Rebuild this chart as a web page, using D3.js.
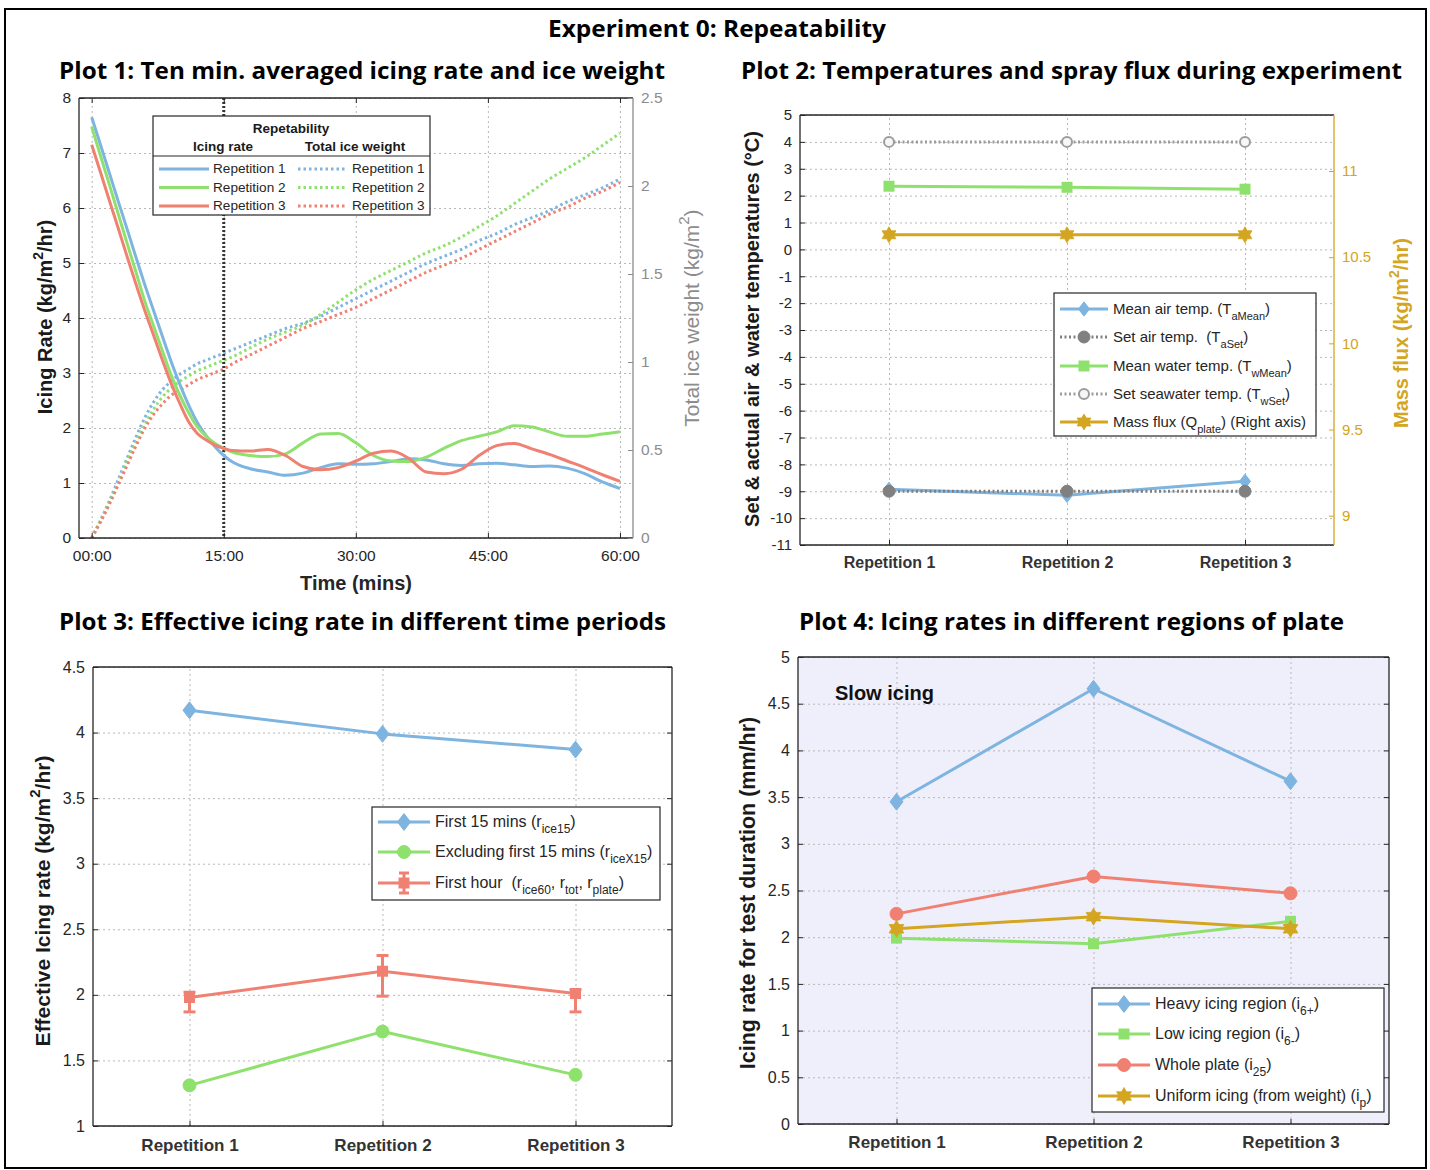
<!DOCTYPE html>
<html><head><meta charset="utf-8">
<script src="https://cdn.jsdelivr.net/npm/d3@7/dist/d3.min.js"></script>
<style>body{margin:0;background:#fff}</style>
</head><body>
<svg id="chart" width="1430" height="1170" xmlns="http://www.w3.org/2000/svg"></svg>
<script>
// ================= DATA =================
// Plot 1: time (minutes) and ten-minute averaged icing rate / total ice weight
const timeMin = [0,1,2,3,4,5,6,7,8,9,10,11,12,13,14,15,16,18,20,22,24,26,28,30,32,34,36,38,40,42,44,46,48,50,52,54,56,58,60];
const rateRep1 = [7.65,7.15,6.64,6.13,5.63,5.12,4.62,4.15,3.68,3.22,2.8,2.42,2.1,1.86,1.66,1.5,1.38,1.26,1.2,1.14,1.18,1.28,1.35,1.34,1.35,1.39,1.44,1.42,1.35,1.32,1.35,1.36,1.33,1.30,1.31,1.27,1.17,1.02,0.9];
const rateRep2 = [7.48,6.95,6.43,5.9,5.37,4.85,4.32,3.87,3.42,2.97,2.6,2.28,2.02,1.85,1.72,1.63,1.56,1.5,1.48,1.53,1.73,1.89,1.9,1.73,1.5,1.4,1.39,1.47,1.63,1.77,1.85,1.93,2.04,2.02,1.93,1.85,1.85,1.89,1.93];
const rateRep3 = [7.15,6.65,6.14,5.64,5.13,4.63,4.15,3.7,3.25,2.82,2.45,2.12,1.9,1.78,1.69,1.63,1.59,1.58,1.61,1.5,1.3,1.24,1.28,1.4,1.54,1.58,1.45,1.2,1.17,1.25,1.5,1.68,1.72,1.62,1.52,1.4,1.28,1.15,1.03];
const weightRep1 = [0,0.1,0.21,0.33,0.45,0.57,0.68,0.77,0.84,0.89,0.93,0.96,0.99,1.01,1.03,1.05,1.07,1.11,1.15,1.19,1.22,1.26,1.31,1.36,1.41,1.46,1.51,1.56,1.6,1.64,1.69,1.73,1.78,1.82,1.86,1.91,1.95,1.99,2.04];
const weightRep2 = [0,0.1,0.2,0.31,0.43,0.54,0.64,0.73,0.8,0.85,0.89,0.92,0.95,0.97,0.99,1.01,1.03,1.08,1.13,1.17,1.21,1.27,1.34,1.41,1.47,1.52,1.57,1.62,1.66,1.71,1.77,1.83,1.9,1.97,2.04,2.1,2.16,2.23,2.30];
const weightRep3 = [0,0.09,0.19,0.3,0.41,0.52,0.62,0.7,0.76,0.81,0.84,0.87,0.9,0.92,0.94,0.96,0.99,1.04,1.09,1.14,1.19,1.23,1.27,1.31,1.36,1.41,1.46,1.51,1.55,1.59,1.64,1.69,1.74,1.79,1.84,1.88,1.93,1.97,2.02];
const timeTicks = [0,15,30,45,60];
const timeTickLabels = ["00:00","15:00","30:00","45:00","60:00"];
const rateTicks = [0,1,2,3,4,5,6,7,8];
const weightTicks = [0,0.5,1,1.5,2,2.5];
const repLegendLabels = ["Repetition 1","Repetition 2","Repetition 3"];

// Plots 2-4: categories
const repetitions = ["Repetition 1","Repetition 2","Repetition 3"];
const repPos = [1,2,3];

// Plot 2
const tempTicks = [5,4,3,2,1,0,-1,-2,-3,-4,-5,-6,-7,-8,-9,-10,-11];
const fluxTicks = [9,9.5,10,10.5,11];
const airTempMean = [-8.93,-9.15,-8.63];
const airTempSet = [-9,-9,-9];
const waterTempMean = [2.35,2.31,2.24];
const waterTempSet = [4,4,4];
const massFlux = [10.63,10.63,10.63];

// Plot 3
const effTicks = [1,1.5,2,2.5,3,3.5,4,4.5];
const rateFirst15 = [4.17,3.99,3.87];
const rateExcl15 = [1.31,1.72,1.39];
const rateFirstHour = [1.98,2.18,2.01];
const rateFirstHourLow = [1.87,1.99,1.87];
const rateFirstHourHigh = [2.02,2.30,2.04];

// Plot 4
const regionTicks = [0,0.5,1,1.5,2,2.5,3,3.5,4,4.5,5];
const heavyIcing = [3.45,4.66,3.67];
const lowIcing = [1.99,1.93,2.17];
const wholePlate = [2.25,2.65,2.47];
const uniformIcing = [2.09,2.22,2.09];

// ================= STYLE =================
const COL = {blue:'#7EB4E0', green:'#8FE16E', red:'#F08072', gold:'#D3A520', gray:'#808080', grayL:'#9C9C9C',
             axis:'#262626', grid:'#B8B8B8', wAxis:'#8C8C8C'};
const FONT = "'Liberation Sans', Arial, Helvetica, sans-serif";
const TFONT = "'Open Sans','Noto Sans',sans-serif";
const NB = '\u00A0';

const svg = d3.select('#chart');
svg.append('rect').attr('width',1430).attr('height',1170).attr('fill','#fff');
svg.append('rect').attr('x',5).attr('y',9).attr('width',1421).attr('height',1159)
   .attr('fill','none').attr('stroke','#000').attr('stroke-width',2);

function rich(sel, parts, fs){
  let cur = 0;
  parts.forEach(p=>{
    const t = Array.isArray(p)?p[0]:p, k = Array.isArray(p)?p[1]:'n';
    const off = k==='sub'? fs*0.38 : k==='sup'? -fs*0.45 : 0;
    sel.append('tspan').attr('dy', off-cur).attr('font-size', k==='n'?fs:Math.round(fs*0.72)).text(t);
    cur = off;
  });
  return sel;
}
function title(x,y,str,w,size){
  svg.append('text').attr('x',x).attr('y',y).attr('text-anchor','middle')
    .attr('font-family',TFONT).attr('font-weight',700).attr('font-size',size)
    .attr('textLength',w).attr('lengthAdjust','spacingAndGlyphs').attr('fill','#000').text(str);
}
function axisStyle(sel, o){
  sel.attr('font-family',FONT).attr('font-size',o.fs||15);
  sel.select('.domain').remove();
  sel.selectAll('.tick line').attr('stroke',o.color||COL.axis).attr('stroke-width',1);
  sel.selectAll('.tick text').attr('fill',o.text||'#262626').attr('font-weight',o.bold?700:400);
}
function grid(g,xs,ys,xv,yv,P){
  g.append('g').attr('transform',`translate(0,${P.B})`)
   .call(d3.axisBottom(xs).tickValues(xv).tickSize(-(P.B-P.T)).tickFormat(''))
   .call(s=>{s.select('.domain').remove(); s.selectAll('line').attr('stroke',COL.grid).attr('stroke-dasharray','2,3');});
  g.append('g').attr('transform',`translate(${P.L},0)`)
   .call(d3.axisLeft(ys).tickValues(yv).tickSize(-(P.R-P.L)).tickFormat(''))
   .call(s=>{s.select('.domain').remove(); s.selectAll('line').attr('stroke',COL.grid).attr('stroke-dasharray','2,3');});
}
function frameLine(g,x1,y1,x2,y2,c){
  g.append('line').attr('x1',x1).attr('y1',y1).attr('x2',x2).attr('y2',y2).attr('stroke',c||COL.axis).attr('stroke-width',1.3);
}
function yLabel(x,y,parts,fs,color,bold){
  const t = svg.append('text').attr('transform',`translate(${x+fs*0.36},${y}) rotate(-90)`).attr('text-anchor','middle')
    .attr('font-family',FONT).attr('font-weight',bold?700:400).attr('fill',color||'#262626');
  rich(t,parts,fs);
}
function hexPath(r){
  const pts=[];
  for(let i=0;i<12;i++){const a=-Math.PI/2+i*Math.PI/6; const rr=i%2===0?r:r*0.577; pts.push([rr*Math.cos(a),rr*Math.sin(a)]);}
  return 'M'+pts.map(p=>p[0].toFixed(2)+','+p[1].toFixed(2)).join('L')+'Z';
}
function marker(g,type,x,y,color,s,fill){
  if(type==='diamond'){
    g.append('path').attr('d',`M0,${-s*1.3}L${s},0L0,${s*1.3}L${-s},0Z`).attr('transform',`translate(${x},${y})`).attr('fill',color).attr('stroke',color);
  } else if(type==='circle'){
    g.append('circle').attr('cx',x).attr('cy',y).attr('r',s).attr('fill',fill||color).attr('stroke',color).attr('stroke-width',fill?2:1);
  } else if(type==='square'){
    g.append('rect').attr('x',x-s).attr('y',y-s).attr('width',2*s).attr('height',2*s).attr('fill',color);
  } else if(type==='hex'){
    g.append('path').attr('d',hexPath(s)).attr('transform',`translate(${x},${y})`).attr('fill',color).attr('stroke',color).attr('stroke-width',0.8);
  }
}
function series(g,xs,ys,vals,color,o){
  const pts = vals.map((v,i)=>[xs(repPos[i]),ys(v)]);
  g.append('path').attr('d',d3.line()(pts)).attr('fill','none').attr('stroke',color).attr('stroke-width',o.w||3)
    .attr('stroke-dasharray',o.dash||null).attr('stroke-linejoin','round');
  pts.forEach(p=>marker(g,o.m,p[0],p[1],o.mc||color,o.s,o.fill));
}
function legendRow(g,x0,x1,y,color,o,parts,fs,tx){
  g.append('line').attr('x1',x0).attr('x2',x1).attr('y1',y).attr('y2',y).attr('stroke',color).attr('stroke-width',3).attr('stroke-dasharray',o.dash||null);
  if(o.m) marker(g,o.m,(x0+x1)/2,y,o.mc||color,o.s,o.fill);
  if(o.err){
    const cx=(x0+x1)/2;
    g.append('line').attr('x1',cx).attr('x2',cx).attr('y1',y-10).attr('y2',y+10).attr('stroke',color).attr('stroke-width',3);
    [-10,10].forEach(d=>g.append('line').attr('x1',cx-5).attr('x2',cx+5).attr('y1',y+d).attr('y2',y+d).attr('stroke',color).attr('stroke-width',3));
  }
  const t=g.append('text').attr('x',tx).attr('y',y+fs*0.33).attr('font-family',FONT).attr('fill','#262626');
  rich(t,parts,fs);
}

// ================= TITLES =================
title(717,37,'Experiment 0: Repeatability',338,23);
title(362,79,'Plot 1: Ten min. averaged icing rate and ice weight',606,23);
title(1071.5,79,'Plot 2: Temperatures and spray flux during experiment',661,23);
title(362.5,630,'Plot 3: Effective icing rate in different time periods',607,23);
title(1071.5,630,'Plot 4: Icing rates in different regions of plate',545,23);

// ================= PLOT 1 =================
{
const P={L:79,T:98,R:633,B:538};
const x=d3.scaleLinear().domain([-1.44,61.48]).range([P.L,P.R]);
const y=d3.scaleLinear().domain([0,8]).range([P.B,P.T]);
const yr=d3.scaleLinear().domain([0,2.5]).range([P.B,P.T]);
const g=svg.append('g');
grid(g,x,y,timeTicks,rateTicks,P);
const colors=[COL.blue,COL.green,COL.red];
const wl=d3.line().x((d,i)=>x(timeMin[i])).y(d=>yr(d)).curve(d3.curveMonotoneX);
[weightRep1,weightRep2,weightRep3].forEach((w,k)=>{
  g.append('path').attr('d',wl(w)).attr('fill','none').attr('stroke',colors[k]).attr('stroke-width',3).attr('stroke-dasharray','2.5,3');
});
g.append('line').attr('x1',x(15)).attr('x2',x(15)).attr('y1',P.T).attr('y2',P.B).attr('stroke','#333').attr('stroke-width',3).attr('stroke-dasharray','2,2');
const rl=d3.line().x((d,i)=>x(timeMin[i])).y(d=>y(d)).curve(d3.curveMonotoneX);
[rateRep1,rateRep2,rateRep3].forEach((r,k)=>{
  g.append('path').attr('d',rl(r)).attr('fill','none').attr('stroke',colors[k]).attr('stroke-width',3);
});
frameLine(g,P.L,P.T,P.R,P.T); frameLine(g,P.L,P.B,P.R,P.B); frameLine(g,P.L,P.T,P.L,P.B); frameLine(g,P.R,P.T,P.R,P.B,COL.wAxis);
g.append('g').attr('transform',`translate(${P.L},0)`).call(d3.axisLeft(y).tickValues(rateTicks).tickSizeInner(-5).tickSizeOuter(0).tickPadding(8).tickFormat(d=>String(d))).call(axisStyle,{fs:15.5});
g.append('g').attr('transform',`translate(${P.R},0)`).call(d3.axisRight(yr).tickValues(weightTicks).tickSizeInner(-5).tickSizeOuter(0).tickPadding(8).tickFormat(d=>String(d))).call(axisStyle,{fs:15.5,color:COL.wAxis,text:COL.wAxis});
g.append('g').attr('transform',`translate(0,${P.B})`).call(d3.axisBottom(x).tickValues(timeTicks).tickSizeInner(-5).tickSizeOuter(0).tickPadding(12).tickFormat((d,i)=>timeTickLabels[i])).call(axisStyle,{fs:15.5});
g.append('g').attr('transform',`translate(0,${P.T})`).call(d3.axisTop(x).tickValues(timeTicks).tickSizeInner(-5).tickSizeOuter(0).tickFormat('')).call(axisStyle,{});
yLabel(45,317,['Icing Rate (kg/m',['2','sup'],'/hr)'],20,'#1a1a1a',true);
yLabel(691,318,['Total ice weight (kg/m',['2','sup'],')'],21,COL.wAxis,false);
svg.append('text').attr('x',356).attr('y',590).attr('text-anchor','middle').attr('font-family',FONT).attr('font-weight',700).attr('font-size',20).attr('fill','#262626').text('Time (mins)');
// legend
const lg=g.append('g');
lg.append('rect').attr('x',153).attr('y',116).attr('width',277).attr('height',99).attr('fill','#fff').attr('stroke','#262626').attr('stroke-width',1.2);
const bt=(tx,ty,s)=>lg.append('text').attr('x',tx).attr('y',ty).attr('text-anchor','middle').attr('font-family',FONT).attr('font-weight',700).attr('font-size',13.5).attr('fill','#1a1a1a').text(s);
bt(291,133,'Repetability'); bt(223,151,'Icing rate'); bt(355,151,'Total ice weight');
lg.append('line').attr('x1',153).attr('x2',430).attr('y1',156).attr('y2',156).attr('stroke','#262626').attr('stroke-width',1.2);
const rowY=[169,187.5,206];
repLegendLabels.forEach((lab,k)=>{
  legendRow(lg,159,209,rowY[k],colors[k],{},[lab],13.6,213);
  legendRow(lg,298,347,rowY[k],colors[k],{dash:'2.5,3'},[lab],13.6,352);
});
}

// ================= PLOT 2 =================
{
const P={L:800,T:115,R:1334,B:545};
const x=d3.scaleLinear().domain([0.5,3.5]).range([P.L,P.R]);
const y=d3.scaleLinear().domain([-11,5]).range([P.B,P.T]);
const yr=d3.scaleLinear().domain([8.83,11.325]).range([P.B,P.T]);
const g=svg.append('g');
grid(g,x,y,repPos,tempTicks,P);
series(g,x,y,airTempMean,COL.blue,{m:'diamond',s:5.5});
series(g,x,y,airTempSet,COL.gray,{m:'circle',s:6,dash:'2,2.5'});
series(g,x,y,waterTempMean,COL.green,{m:'square',s:5.5});
series(g,x,y,waterTempSet,COL.grayL,{m:'circle',s:5,dash:'2,2.5',fill:'#f6f6f6'});
series(g,x,yr,massFlux,COL.gold,{m:'hex',s:8});
frameLine(g,P.L,P.T,P.R,P.T); frameLine(g,P.L,P.B,P.R,P.B); frameLine(g,P.L,P.T,P.L,P.B); frameLine(g,P.R,P.T,P.R,P.B,COL.gold);
g.append('g').attr('transform',`translate(${P.L},0)`).call(d3.axisLeft(y).tickValues(tempTicks).tickSizeInner(-5).tickSizeOuter(0).tickPadding(8).tickFormat(d=>String(d))).call(axisStyle,{fs:15});
g.append('g').attr('transform',`translate(${P.R},0)`).call(d3.axisRight(yr).tickValues(fluxTicks).tickSizeInner(-5).tickSizeOuter(0).tickPadding(8).tickFormat(d=>String(d))).call(axisStyle,{fs:15,color:COL.gold,text:COL.gold});
g.append('g').attr('transform',`translate(0,${P.B})`).call(d3.axisBottom(x).tickValues(repPos).tickSizeInner(-5).tickSizeOuter(0).tickPadding(12).tickFormat((d,i)=>repetitions[i])).call(axisStyle,{bold:true,fs:16,text:'#333'});
yLabel(752,329,['Set & actual air & water temperatures (°C)'],20,'#1a1a1a',true);
yLabel(1401,333,['Mass flux (kg/m',['2','sup'],'/hr)'],20,COL.gold,true);
const lg=g.append('g');
lg.append('rect').attr('x',1054).attr('y',293).attr('width',262).attr('height',143).attr('fill','#fff').attr('stroke','#262626').attr('stroke-width',1.2);
const ry=[309,337,366,394,422];
legendRow(lg,1060,1108,ry[0],COL.blue,{m:'diamond',s:5.5},['Mean air temp. (T',['aMean','sub'],')'],15,1113);
legendRow(lg,1060,1108,ry[1],COL.gray,{m:'circle',s:6,dash:'2,2.5'},['Set air temp. '+NB+'(T',['aSet','sub'],')'],15,1113);
legendRow(lg,1060,1108,ry[2],COL.green,{m:'square',s:5.5},['Mean water temp. (T',['wMean','sub'],')'],15,1113);
legendRow(lg,1060,1108,ry[3],COL.grayL,{m:'circle',s:5,dash:'2,2.5',fill:'#f6f6f6'},['Set seawater temp. (T',['wSet','sub'],')'],15,1113);
legendRow(lg,1060,1108,ry[4],COL.gold,{m:'hex',s:8},['Mass flux (Q',['plate','sub'],') (Right axis)'],15,1113);
}

// ================= PLOT 3 =================
{
const P={L:93,T:667,R:672,B:1126};
const x=d3.scaleLinear().domain([0.5,3.5]).range([P.L,P.R]);
const y=d3.scaleLinear().domain([1,4.5]).range([P.B,P.T]);
const g=svg.append('g');
grid(g,x,y,repPos,effTicks,P);
series(g,x,y,rateFirst15,COL.blue,{m:'diamond',s:6.5});
series(g,x,y,rateExcl15,COL.green,{m:'circle',s:6.5});
rateFirstHour.forEach((v,i)=>{
  const cx=x(repPos[i]);
  g.append('line').attr('x1',cx).attr('x2',cx).attr('y1',y(rateFirstHourLow[i])).attr('y2',y(rateFirstHourHigh[i])).attr('stroke',COL.red).attr('stroke-width',3);
  [rateFirstHourLow[i],rateFirstHourHigh[i]].forEach(e=>g.append('line').attr('x1',cx-6).attr('x2',cx+6).attr('y1',y(e)).attr('y2',y(e)).attr('stroke',COL.red).attr('stroke-width',3));
});
series(g,x,y,rateFirstHour,COL.red,{m:'square',s:5.5});
frameLine(g,P.L,P.T,P.R,P.T); frameLine(g,P.L,P.B,P.R,P.B); frameLine(g,P.L,P.T,P.L,P.B); frameLine(g,P.R,P.T,P.R,P.B);
g.append('g').attr('transform',`translate(${P.L},0)`).call(d3.axisLeft(y).tickValues(effTicks).tickSizeInner(-5).tickSizeOuter(0).tickPadding(8).tickFormat(d=>String(d))).call(axisStyle,{fs:16});
g.append('g').attr('transform',`translate(${P.R},0)`).call(d3.axisRight(y).tickValues(effTicks).tickSizeInner(-5).tickSizeOuter(0).tickFormat('')).call(axisStyle,{});
g.append('g').attr('transform',`translate(0,${P.B})`).call(d3.axisBottom(x).tickValues(repPos).tickSizeInner(-5).tickSizeOuter(0).tickPadding(13).tickFormat((d,i)=>repetitions[i])).call(axisStyle,{bold:true,fs:17,text:'#333'});
yLabel(42,901,['Effective Icing rate (kg/m',['2','sup'],'/hr)'],21,'#1a1a1a',true);
const lg=g.append('g');
lg.append('rect').attr('x',372).attr('y',807).attr('width',288).attr('height',93).attr('fill','#fff').attr('stroke','#262626').attr('stroke-width',1.2);
legendRow(lg,378,430,822,COL.blue,{m:'diamond',s:6.5},['First 15 mins (r',['ice15','sub'],')'],16,435);
legendRow(lg,378,430,852,COL.green,{m:'circle',s:6.5},['Excluding first 15 mins (r',['iceX15','sub'],')'],16,435);
legendRow(lg,378,430,883,COL.red,{m:'square',s:5.5,err:true},['First hour '+NB+'(r',['ice60','sub'],', r',['tot','sub'],', r',['plate','sub'],')'],16,435);
}

// ================= PLOT 4 =================
{
const P={L:798,T:657,R:1389,B:1124};
const x=d3.scaleLinear().domain([0.5,3.5]).range([P.L,P.R]);
const y=d3.scaleLinear().domain([0,5]).range([P.B,P.T]);
const g=svg.append('g');
g.append('rect').attr('x',P.L).attr('y',P.T).attr('width',P.R-P.L).attr('height',P.B-P.T).attr('fill','#EFEFFB');
grid(g,x,y,repPos,regionTicks,P);
series(g,x,y,heavyIcing,COL.blue,{m:'diamond',s:6.5});
series(g,x,y,lowIcing,COL.green,{m:'square',s:5.5});
series(g,x,y,wholePlate,COL.red,{m:'circle',s:6.5});
series(g,x,y,uniformIcing,COL.gold,{m:'hex',s:8.5});
frameLine(g,P.L,P.T,P.R,P.T); frameLine(g,P.L,P.B,P.R,P.B); frameLine(g,P.L,P.T,P.L,P.B); frameLine(g,P.R,P.T,P.R,P.B);
g.append('g').attr('transform',`translate(${P.L},0)`).call(d3.axisLeft(y).tickValues(regionTicks).tickSizeInner(-5).tickSizeOuter(0).tickPadding(8).tickFormat(d=>String(d))).call(axisStyle,{fs:16});
g.append('g').attr('transform',`translate(${P.R},0)`).call(d3.axisRight(y).tickValues(regionTicks).tickSizeInner(-5).tickSizeOuter(0).tickFormat('')).call(axisStyle,{});
g.append('g').attr('transform',`translate(0,${P.B})`).call(d3.axisBottom(x).tickValues(repPos).tickSizeInner(-5).tickSizeOuter(0).tickPadding(12).tickFormat((d,i)=>repetitions[i])).call(axisStyle,{bold:true,fs:17,text:'#333'});
yLabel(747,893,['Icing rate for test duration (mm/hr)'],21.5,'#1a1a1a',true);
g.append('text').attr('x',835).attr('y',700).attr('font-family',FONT).attr('font-weight',700).attr('font-size',20).attr('fill','#111').text('Slow icing');
const lg=g.append('g');
lg.append('rect').attr('x',1092).attr('y',988).attr('width',292).attr('height',124).attr('fill','#fff').attr('stroke','#262626').attr('stroke-width',1.2);
legendRow(lg,1098,1150,1004,COL.blue,{m:'diamond',s:6.5},['Heavy icing region (i',['6+','sub'],')'],16,1155);
legendRow(lg,1098,1150,1034,COL.green,{m:'square',s:5.5},['Low icing region (i',['6-','sub'],')'],16,1155);
legendRow(lg,1098,1150,1065,COL.red,{m:'circle',s:6.5},['Whole plate (i',['25','sub'],')'],16,1155);
legendRow(lg,1098,1150,1096,COL.gold,{m:'hex',s:8.5},['Uniform icing (from weight) (i',['p','sub'],')'],16,1155);
}
</script>
</body></html>
